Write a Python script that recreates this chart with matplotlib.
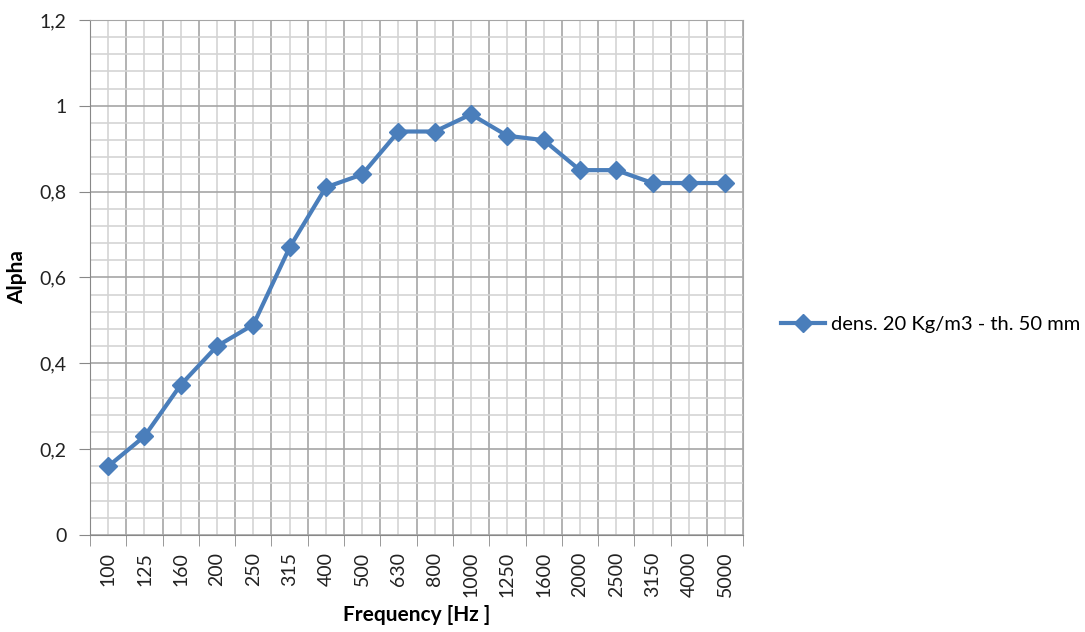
import matplotlib.pyplot as plt
import numpy as np
from matplotlib.ticker import MultipleLocator, FixedLocator, FuncFormatter

freq = ['100', '125', '160', '200', '250', '315', '400', '500', '630', '800',
        '1000', '1250', '1600', '2000', '2500', '3150', '4000', '5000']
alpha = [0.16, 0.23, 0.35, 0.44, 0.49, 0.67, 0.81, 0.84, 0.94, 0.94,
         0.98, 0.93, 0.92, 0.85, 0.85, 0.82, 0.82, 0.82]
serie = 'dens. 20 Kg/m3 - th. 50 mm'

plt.rcParams['font.family'] = ['Lato', 'DejaVu Sans']

fig = plt.figure(figsize=(10.85, 6.32), dpi=100)
ax = fig.add_axes([0.083, 0.1535, 0.602, 0.815])

x = np.arange(len(freq))
ax.plot(x, alpha, '-D', color='#4A7EBB', lw=3, ms=9, label=serie, zorder=3)

ax.set_xlim(-0.5, len(freq) - 0.5)
ax.set_ylim(0, 1.2)

# x: etichette al centro, tacche ai bordi delle categorie
ax.xaxis.set_major_locator(FixedLocator(x))
ax.set_xticklabels(freq, rotation=90)
ax.xaxis.set_minor_locator(FixedLocator(np.arange(len(freq) + 1) - 0.5))
ax.tick_params(axis='x', which='major', length=0, pad=12, labelsize=14, colors='#222222')
ax.tick_params(axis='x', which='minor', length=8, color='#888888', direction='out')

ax.yaxis.set_major_locator(MultipleLocator(0.2))
ax.yaxis.set_minor_locator(MultipleLocator(0.04))
ax.yaxis.set_major_formatter(FuncFormatter(lambda v, p: ('%g' % round(v, 2)).replace('.', ',')))
ax.tick_params(axis='y', which='major', length=8, color='#888888', labelsize=14, colors='#222222', pad=9)
ax.tick_params(axis='y', which='minor', length=0)

ax.grid(True, axis='x', which='minor', color='#A6A6A6', lw=1.2)
ax.grid(True, axis='x', which='major', color='#D4D4D4', lw=1.2)
ax.grid(True, axis='y', which='major', color='#A6A6A6', lw=1.2)
ax.grid(True, axis='y', which='minor', color='#D4D4D4', lw=1.2)
ax.set_axisbelow(True)

for s in ax.spines.values():
    s.set_color('#A6A6A6')
ax.spines['left'].set_color('#888888')
ax.spines['bottom'].set_color('#888888')

ax.set_xlabel('Frequency [Hz ]', fontsize=15, fontweight='bold', labelpad=6)
ax.set_ylabel('Alpha', fontsize=15, fontweight='bold', labelpad=9)

ax.legend(loc='center left', bbox_to_anchor=(1.03, 0.408), frameon=False,
          fontsize=14.5, handlelength=2.2, handletextpad=0.3)

fig.savefig('out.png', dpi=100)
